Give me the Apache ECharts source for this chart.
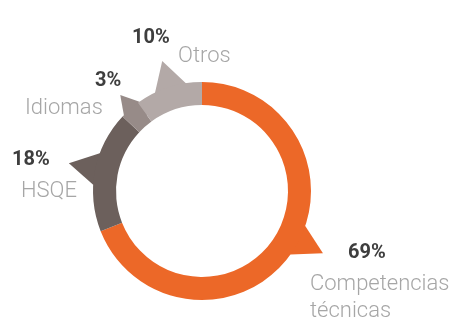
<!DOCTYPE html>
<html>
<head>
<meta charset="utf-8">
<script src="https://cdn.jsdelivr.net/npm/echarts@6/dist/echarts.min.js"></script>
<style>
  html, body { margin: 0; padding: 0; background: #ffffff; }
  #chart { width: 455px; height: 320px; }
</style>
</head>
<body>
<div id="chart"></div>
<script>
// Distribution of training hours by area (percent)
const categories = ['Competencias\ntécnicas', 'HSQE', 'Idiomas', 'Otros'];
const shares = [69, 18, 3, 10];

const colors = ['#EC6828', '#6C605C', '#978B88', '#B3A9A7'];

// label anchor points (left edge, vertical middle) for percent and name
const pctPos = [[348, 253], [12, 160], [95, 81], [132, 38]];
const namePos = [[310, 284], [21, 191], [25, 108], [178, 56]];
// angular nudge of each pointer relative to its slice centre (degrees)
const pointerShift = [-7, 1, 1, 1];

const CX = 202, CY = 191, R_OUT = 109, R_IN = 86;

// cumulative start / end of each slice
const spans = [];
let acc = 0;
shares.forEach(v => { spans.push([acc, acc + v]); acc += v; });
const total = acc;

const chart = echarts.init(document.getElementById('chart'), null, { renderer: 'canvas' });

const graphics = [];
shares.forEach((v, i) => {
  graphics.push({
    type: 'text',
    style: {
      text: v + '%',
      x: pctPos[i][0], y: pctPos[i][1],
      fill: '#3E3E3E',
      font: 'bold 20px Roboto',
      textAlign: 'left', textVerticalAlign: 'middle',
      align: 'left', verticalAlign: 'middle'
    }
  });
  const lines = categories[i].split('\n');
  lines.forEach((ln, k) => {
    graphics.push({
      type: 'text',
      style: {
        text: ln,
        x: namePos[i][0], y: namePos[i][1] + k * 27,
        fill: '#A6A6A6',
        font: '300 22px Roboto',
        textAlign: 'left', textVerticalAlign: 'middle',
        align: 'left', verticalAlign: 'middle'
      }
    });
  });
});

chart.setOption({
  animation: false,
  polar: { center: [CX, CY], radius: R_OUT },
  angleAxis: {
    type: 'value', min: 0, max: 360, startAngle: 90, clockwise: true,
    show: false
  },
  radiusAxis: { type: 'value', min: 0, max: R_OUT, show: false },
  graphic: graphics,
  series: [
    {
      type: 'custom',
      coordinateSystem: 'polar',
      silent: true,
      z: 1,
      data: spans.map((s, i) => [s[0], s[1], i]),
      renderItem: function (params, api) {
        const i = params.dataIndex;
        const start = api.value(0) / total * 360;
        const end = api.value(1) / total * 360;
        const mid = (start + end) / 2 + pointerShift[i];
        const half = Math.min(8.5, (end - start) / 2);
        const tipR = R_OUT + 27 * Math.min(1, half / 8.5);
        const base = R_IN + 8;
        const pts = [
          api.coord([base, mid - half]),
          api.coord([R_OUT, mid - half]),
          api.coord([tipR, mid]),
          api.coord([R_OUT, mid + half]),
          api.coord([base, mid + half])
        ];
        return {
          type: 'polygon',
          shape: { points: pts },
          style: { fill: colors[i] }
        };
      }
    },
    {
      type: 'pie',
      z: 2,
      center: [CX, CY],
      radius: [R_IN, R_OUT],
      startAngle: 90,
      clockwise: true,
      silent: true,
      label: { show: false },
      labelLine: { show: false },
      itemStyle: { borderWidth: 0 },
      data: shares.map((v, i) => ({
        name: categories[i], value: v, itemStyle: { color: colors[i] }
      }))
    }
  ]
});
</script>
</body>
</html>
